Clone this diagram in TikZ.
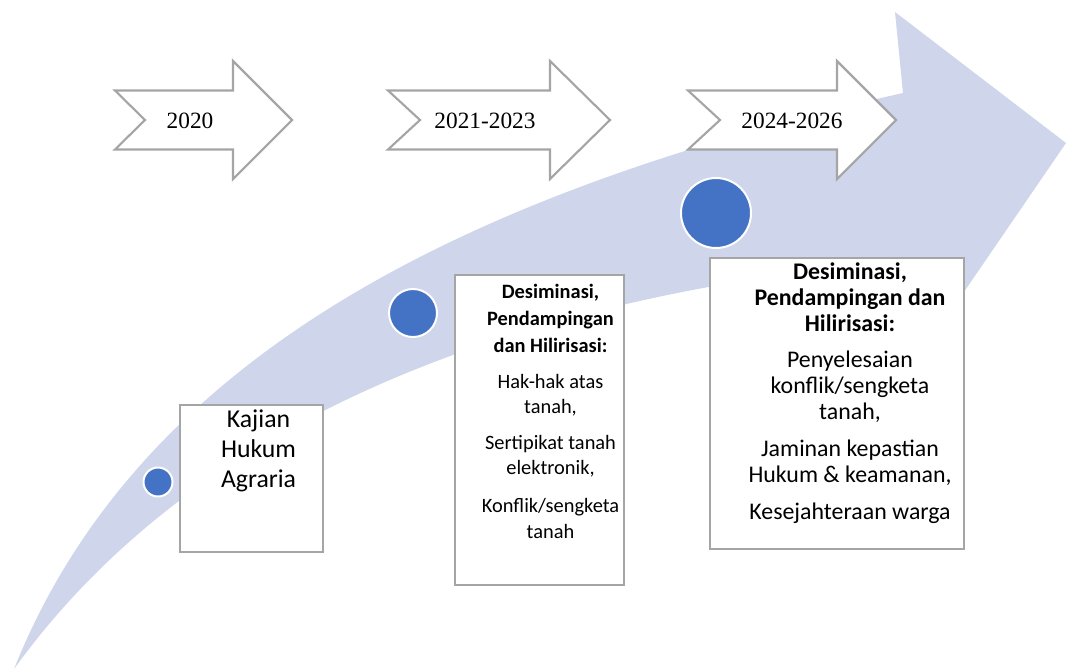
\documentclass[tikz,border=0pt]{standalone}
\usepackage{fontspec}
\setmainfont{Carlito}
\newfontfamily\yearfont{Liberation Serif}
\usetikzlibrary{fit,calc}
\definecolor{swooshblue}{HTML}{CFD5EA}
\definecolor{dotblue}{HTML}{4472C4}
\definecolor{framegray}{HTML}{A5A5A5}
\begin{document}
\begin{tikzpicture}[x=0.75pt,y=-0.75pt,
  swoosh/.style={fill=swooshblue},
  yeararrow/.style={draw=framegray, fill=white, line width=1.6pt, line join=miter},
  yearlabel/.style={font=\yearfont\fontsize{17.5}{20}\selectfont, inner sep=0},
  card/.style={draw=framegray, fill=white, line width=1.8pt, inner sep=0},
  midtext/.style={align=center, anchor=north, inner sep=0, font=\fontsize{15.3}{19}\selectfont},
  widetext/.style={align=center, anchor=north, inner sep=0, font=\fontsize{17.9}{19.3}\selectfont},
  bigtext/.style={align=center, anchor=north, inner sep=0, font=\fontsize{19.3}{22.5}\selectfont},
  dot/.style={circle, fill=dotblue, draw=white, line width=1.5pt, inner sep=0}
]
\useasboundingbox (0,0) rectangle (1066,669);

% the rising swoosh arrow behind everything
\begin{scope}
  \clip (0,0) rectangle (1066,669);
  \fill[swoosh] (14,669) .. controls (130.7,377.3) and (427,200) .. (903,93)
    -- (895,12) -- (1066,143) -- (931,340) -- (922,259)
    .. controls (487.3,295.7) and (184.7,432.7) .. (14,669) -- cycle;
\end{scope}

% notched year arrows
\draw[yeararrow] (115,90.5) -- (233,90.5) -- (233,61) -- (292,120) -- (233,179)
  -- (233,149.5) -- (115,149.5) -- (145,120) -- cycle;
\draw[yeararrow] (388,90.5) -- (550,90.5) -- (550,61) -- (610,120) -- (550,179)
  -- (550,149.5) -- (388,149.5) -- (420,120) -- cycle;
\draw[yeararrow] (688,90.5) -- (837,90.5) -- (837,61) -- (896,120) -- (837,179)
  -- (837,149.5) -- (688,149.5) -- (720,120) -- cycle;
\node[yearlabel] (y1) at (190,121) {2020};
\node[yearlabel] (y2) at (485,121) {2021-2023};
\node[yearlabel] (y3) at (792,121) {2024-2026};

% milestones on the swoosh
\node[dot, minimum size=21.75pt] (d1) at (158,482) {};
\node[dot, minimum size=36pt] (d2) at (413,313) {};
\node[dot, minimum size=52.5pt] (d3) at (716,213) {};

% cards
\node[card, fit={(180,405) (323,552)}] (k1) {};
\node[card, fit={(455,275) (624,585)}] (k2) {};
\node[card, fit={(710,258) (964,549)}] (k3) {};

\node[bigtext] (t1) at ($(k1.north)+(7,6)$) {Kajian\\Hukum\\Agraria};
\node[midtext] (t2) at ($(k2.north)+(11,10)$) {\textbf{Desiminasi,}\\[1.2pt]\textbf{Pendampingan}\\[1.2pt]\textbf{dan Hilirisasi:}\\[8pt]
  Hak-hak atas\\tanah,\\[8pt]Sertipikat tanah\\elektronik,\\[9.5pt]Konflik/sengketa\\tanah};
\node[widetext] (t3) at ($(k3.north)+(13,6)$) {\textbf{Desiminasi,}\\\textbf{Pendampingan dan}\\\textbf{Hilirisasi:}\\[8pt]
  Penyelesaian\\konflik/sengketa\\tanah,\\[9pt]Jaminan kepastian\\Hukum \& keamanan,\\[8.5pt]Kesejahteraan warga};
\end{tikzpicture}
\end{document}
